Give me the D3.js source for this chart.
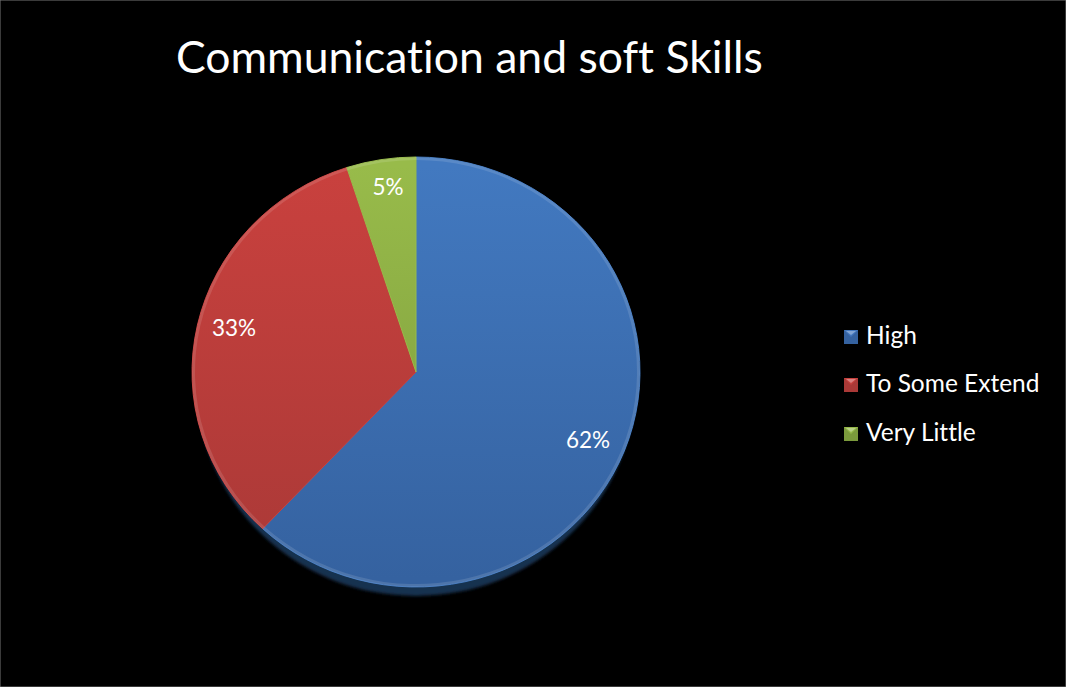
<!DOCTYPE html>
<html>
<head>
<meta charset="utf-8">
<script src="https://d3js.org/d3.v7.min.js"></script>
<style>
  body { margin: 0; background: #000; }
  svg { display: block; }
  text { font-variant-ligatures: none; }
</style>
</head>
<body>
<div id="chart"></div>
<script>
// values
var categories = ["High", "To Some Extend", "Very Little"];
var values = [62, 33, 5];
var labels = ["62%", "33%", "5%"];
var title = "Communication and soft Skills";

var width = 1066,
    height = 687;

var colours = ["#4279c0", "#c9413e", "#98bb4a"];
var darks = ["#3562a0", "#aa3937", "#7b9a3c"];

var svg = d3.select("#chart")
    .append("svg")
    .attr("width", width)
    .attr("height", height);

svg.append("rect")
    .attr("width", width).attr("height", height)
    .style("fill", "#000")
    .style("stroke", "#777")
    .style("stroke-width", 1);

var defs = svg.append("defs");
colours.forEach(function(c, i) {
    var g = defs.append("linearGradient")
        .attr("id", "grad" + i)
        .attr("gradientUnits", "userSpaceOnUse")
        .attr("x1", 0).attr("y1", -215).attr("x2", 0).attr("y2", 215);
    g.append("stop").attr("offset", "0%").attr("stop-color", c);
    g.append("stop").attr("offset", "100%").attr("stop-color", darks[i]);
});
defs.append("filter").attr("id", "blur")
    .append("feGaussianBlur").attr("stdDeviation", 1.5);

svg.append("text")
    .attr("x", 176)
    .attr("y", 73)
    .style("font-family", "Lato, 'Open Sans', sans-serif")
    .style("font-size", "44.5px")
    .style("fill", "#fff")
    .text(title);

// pie, slightly squashed vertically
var cx = 416, cy = 372, r = 224, sy = 215 / 224;

var pie = d3.pie().sort(null).value(function(d) { return d; });
var arcs = pie(values);
var arc = d3.arc().innerRadius(0).outerRadius(r);

var g = svg.append("g")
    .attr("transform", "translate(" + cx + "," + cy + ")");

// shadow / thickness under the pie
g.append("ellipse")
    .attr("cx", 0).attr("cy", 9)
    .attr("rx", r - 4).attr("ry", r * sy)
    .style("fill", "#18304f")
    .attr("filter", "url(#blur)");

var pg = g.append("g").attr("transform", "scale(1," + sy + ")");

pg.selectAll("path.slice")
    .data(arcs)
    .enter().append("path")
    .attr("class", "slice")
    .attr("d", arc)
    .style("fill", function(d, i) { return "url(#grad" + i + ")"; })
    .style("stroke", function(d, i) { return colours[i]; })
    .style("stroke-width", 1);

// light bevel on the rim
pg.selectAll("path.rim")
    .data(arcs)
    .enter().append("path")
    .attr("class", "rim")
    .attr("d", d3.arc().innerRadius(r - 3).outerRadius(r))
    .style("fill", "#fff")
    .style("opacity", 0.12);

var labelPos = [[588, 448], [234, 336], [388, 195]];
g.selectAll("text.lbl")
    .data(arcs)
    .enter().append("text")
    .attr("class", "lbl")
    .attr("x", function(d, i) { return labelPos[i][0] - cx; })
    .attr("y", function(d, i) { return labelPos[i][1] - cy; })
    .attr("text-anchor", "middle")
    .style("font-family", "Lato, 'Open Sans', sans-serif")
    .style("font-size", "22.5px")
    .style("fill", "#fff")
    .text(function(d, i) { return labels[i]; });

// legend
var legend = svg.append("g")
    .attr("transform", "translate(844,330)");

var item = legend.selectAll("g")
    .data(categories)
    .enter().append("g")
    .attr("transform", function(d, i) { return "translate(0," + [0, 48, 97][i] + ")"; });

item.append("rect")
    .attr("width", 14).attr("height", 14)
    .style("fill", function(d, i) { return darks[i]; });

item.append("path")
    .attr("d", "M0,0L14,0L7,7Z")
    .style("fill", function(d, i) { return colours[i]; })
    .style("opacity", 0.9);

item.append("path")
    .attr("d", "M2,1L12,1L7,5Z")
    .style("fill", "#fff")
    .style("opacity", 0.35);

item.append("text")
    .attr("x", 22)
    .attr("y", 14)
    .style("font-family", "Lato, 'Open Sans', sans-serif")
    .style("font-size", "24.5px")
    .style("fill", "#fff")
    .text(function(d) { return d; });
</script>
</body>
</html>
